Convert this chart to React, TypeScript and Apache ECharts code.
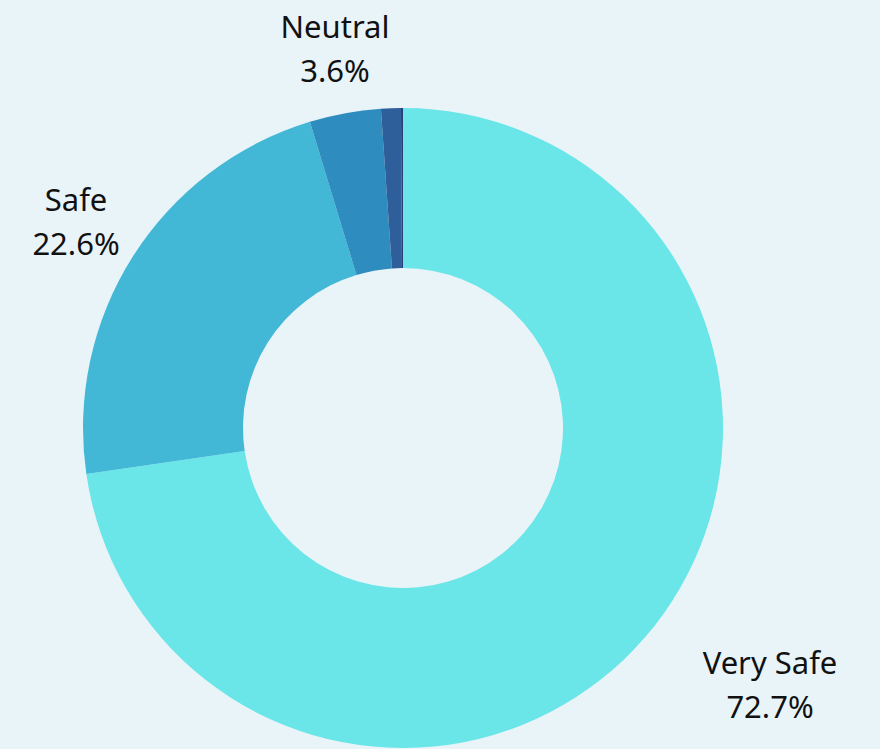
import React, { useEffect, useRef } from "react";
import * as echarts from "echarts";

const categories = ["Very Safe", "Safe", "Neutral", "Unsafe", "Very Unsafe"];
const values = [72.7, 22.6, 3.6, 1.0, 0.1];
const colors = ["#6ae5e8", "#42b8d6", "#2e8dbe", "#2e5f9a", "#2a3d78"];
const labelled = [true, true, true, false, false];

export default function App() {
  const ref = useRef<HTMLDivElement>(null);
  useEffect(() => {
    if (!ref.current) return;
    const chart = echarts.init(ref.current, undefined, { renderer: "svg" });
    const labelSpots: Record<number, [number, number]> = {
      0: [770, 684],
      1: [76, 221],
      2: [335, 48],
    };
    chart.setOption({
      animation: false,
      backgroundColor: "#e9f4f9",
      series: [
        {
          type: "pie",
          center: [403, 428],
          radius: [160, 320],
          startAngle: 90,
          clockwise: true,
          avoidLabelOverlap: false,
          data: categories.map((name, i) => ({
            name,
            value: values[i],
            itemStyle: { color: colors[i] },
            label: { show: labelled[i] },
          })),
          label: {
            show: true,
            position: "outside",
            formatter: (p: any) => `${p.name}\n${p.value.toFixed(1)}%`,
            fontFamily: "Noto Sans",
            fontSize: 31,
            lineHeight: 44,
            color: "#111111",
            align: "center",
          },
          labelLine: { show: false },
          labelLayout: (params: any) => {
            const s = labelSpots[params.dataIndex];
            if (!s) return {};
            return { x: s[0], y: s[1], align: "center", verticalAlign: "middle" };
          },
          emphasis: { disabled: true },
        },
      ],
    });
    return () => chart.dispose();
  }, []);
  return (
    <div
      ref={ref}
      style={{ position: "absolute", left: 0, top: 0, width: 880, height: 749 }}
    />
  );
}
